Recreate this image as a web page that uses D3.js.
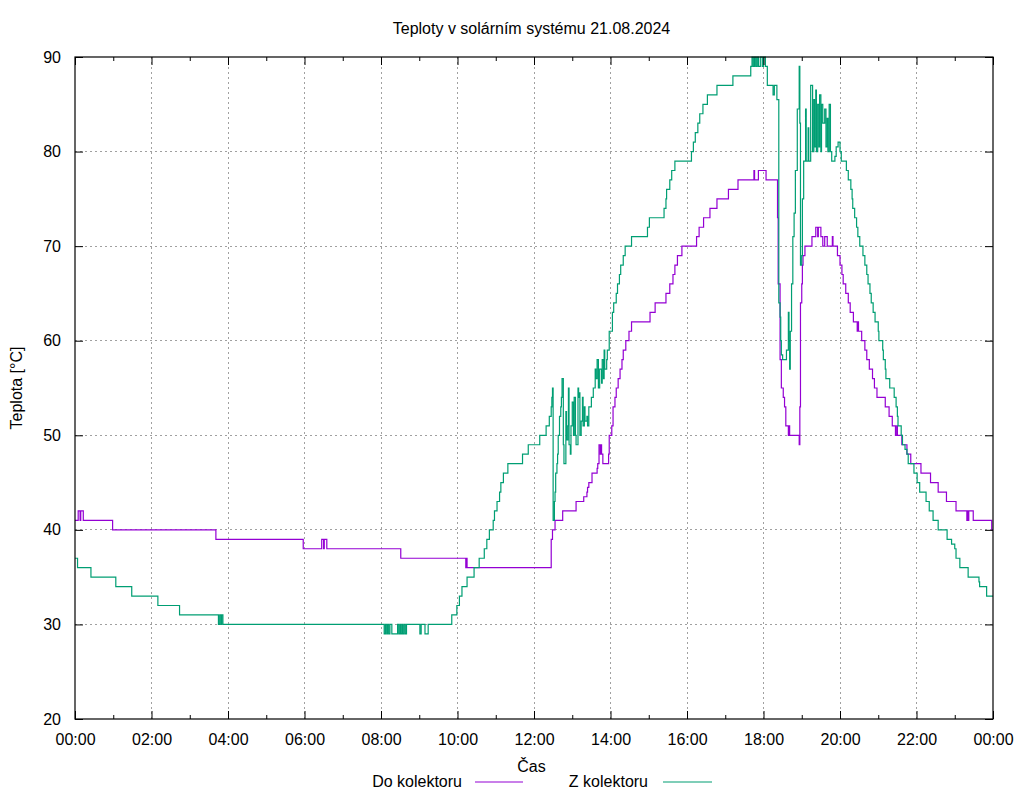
<!DOCTYPE html>
<html>
<head>
<meta charset="utf-8">
<script src="https://cdn.jsdelivr.net/npm/d3@7"></script>
<style>
  html, body { margin: 0; padding: 0; background: #ffffff; }
  svg { display: block; font-family: "Liberation Sans", Arial, sans-serif; }
</style>
</head>
<body>
<svg id="chart" width="1024" height="800"></svg>
<script>
// ---------- DATA ----------
const chartTitle = "Teploty v solárním systému 21.08.2024";
const xTitle = "Čas";
const yTitle = "Teplota [°C]";
const seriesNames = ["Do kolektoru", "Z kolektoru"];
const seriesColors = ["#9400d3", "#009e73"];
const yTicks = [20, 30, 40, 50, 60, 70, 80, 90];

// Do kolektoru: [time, °C] breakpoints (value holds until next time)
const doKolektoru = [
  ["00:00",41],["00:05",42],["00:08",41],["00:09",42],["00:13",41],["00:59",40],
  ["03:41",39],["05:58",38],["06:27",39],["06:30",38],["06:31",39],["06:35",38],
  ["08:31",37],["10:13",36],["10:14",37],["10:15",36],
  ["12:27",39],["12:29",40],["12:33",41],["12:45",42],["13:06",43],["13:18",43.5],
  ["13:23",44],["13:24",44.5],["13:26",45],["13:31",46],["13:39",46.5],["13:40",47],
  ["13:42",49],["13:44",48],["13:45",49],["13:46",48],["13:48",47],["13:57",48],
  ["13:58",50],["14:02",51],["14:04",53],["14:07",54],["14:09",55],["14:12",56],
  ["14:15",57],["14:18",58],["14:20",59],["14:24",60],["14:29",61],["14:33",62],
  ["15:02",63],["15:10",64],["15:27",65],["15:33",66],["15:38",67],["15:41",68],
  ["15:45",69],["15:52",70],["16:15",71],["16:19",72],["16:26",73],["16:36",74],
  ["16:47",75],["17:05",76],["17:20",77],["17:45",78],["17:46",77],["17:52",78],
  ["18:04",77],["18:22",73],["18:23",66],["18:26",58],["18:28",55],["18:31",54],
  ["18:33",53],["18:35",51],["18:39",50],["18:40",51],["18:41",50],["18:56",49],
  ["18:57",53],["18:58",64],["19:00",66],["19:01",68],["19:02",69],["19:05",70],
  ["19:16",71],["19:22",72],["19:25",71],["19:26",72],["19:30",71],["19:33",70],
  ["19:36",71],["19:40",70],["19:48",71],["19:49",70],["19:56",69],["20:00",68],
  ["20:03",67],["20:05",66],["20:09",65],["20:13",64],["20:16",63],["20:21",62],
  ["20:27",61],["20:28",62],["20:29",61],["20:34",60],["20:39",59],["20:42",58],
  ["20:46",57],["20:51",56],["20:54",55],["20:58",54],["21:11",53],["21:17",52],
  ["21:22",51],["21:27",50],["21:29",51],["21:30",50],["21:37",49],["21:45",48],
  ["21:51",47],["22:07",46],["22:22",45],["22:34",44],["22:47",43],["23:02",42],
  ["23:19",41],["23:20",42],["23:21",41],["23:22",42],["23:29",41],["23:58",40],
  ["24:00",40]
];

// Z kolektoru: [time, °C] breakpoints
const zKolektoru = [
  ["00:00",37],["00:04",36],["00:25",35],["01:04",34],["01:29",33],["02:10",32],
  ["02:44",31],["03:45",30],["03:47",31],["03:49",30],["03:50",31],["03:52",30],
  ["08:05",29],["08:07",30],["08:09",29],["08:10",30],["08:12",29],["08:14",30],
  ["08:17",29],["08:26",30],["08:28",29],["08:30",30],["08:31",29],["08:33",30],
  ["08:34",29],["08:36",30],["08:38",29],["08:40",30],["09:01",29],["09:03",30],
  ["09:09",29],["09:14",30],["09:51",31],["09:59",32],["10:03",33],["10:07",34],
  ["10:15",35],["10:26",36],["10:34",37],["10:42",38],["10:46",39],["10:50",40],
  ["10:56",41],["10:58",42],["11:02",43],["11:06",44],["11:08",45],["11:12",46],
  ["11:19",47],["11:42",48],["11:51",49],["12:09",50],["12:19",51],["12:24",52],
  ["12:27",53],["12:28",54],["12:29",55],["12:30",41],["12:32",43],["12:33",44],
  ["12:34",46],["12:36",47],["12:37",48],["12:38",50],["12:40",52],["12:42",53],
  ["12:43",54],["12:44",56],["12:46",49],["12:47",47],["12:50",52.5],["12:51",49.5],
  ["12:53",51],["12:54",55],["12:55",49],["12:57",48],["12:58",51],["13:00",53.5],
  ["13:02",50],["13:03",54],["13:05",50],["13:06",49],["13:09",55],["13:10",54],
  ["13:11",54.5],["13:12",50],["13:14",51.5],["13:16",54],["13:17",51],["13:19",53],
  ["13:20",51.5],["13:23",52],["13:24",51],["13:26",53],["13:30",54],["13:33",55],
  ["13:36",57],["13:37",56],["13:39",58],["13:41",55],["13:43",57],["13:46",55.5],
  ["13:47",58],["13:49",56],["13:50",59],["13:51",57],["13:54",58],["13:55",59],
  ["13:58",61],["14:03",63],["14:05",64],["14:09",65],["14:11",66],["14:14",67],
  ["14:16",68],["14:20",69],["14:23",70],["14:33",71],["14:58",72],["15:01",73],
  ["15:24",74],["15:27",75],["15:28",76],["15:33",77],["15:36",78],["15:41",79],
  ["16:07",80],["16:10",81],["16:13",82],["16:17",83],["16:20",84],["16:25",85],
  ["16:32",86],["16:47",87],["17:12",88],["17:40",89],["17:42",90],["17:44",89],
  ["17:46",90],["17:48",89],["17:50",90],["17:52",89],["17:55",90],["17:58",89],
  ["18:00",90],["18:03",89],["18:06",87],["18:15",86],["18:17",87],["18:21",85.5],
  ["18:24",64],["18:26",62.5],["18:27",60],["18:28",58.5],["18:30",58],["18:36",59],
  ["18:39",63],["18:40",60],["18:41",57],["18:42",61],["18:44",66],["18:46",71],
  ["18:48",73.5],["18:50",78],["18:53",84.5],["18:56",89],["18:57",83],["18:58",68],
  ["19:00",69],["19:01",75],["19:03",79],["19:06",84.5],["19:07",79],["19:10",82.5],
  ["19:11",79],["19:14",87],["19:17",80],["19:19",85.5],["19:20",80.5],["19:22",86.5],
  ["19:23",80],["19:25",85],["19:27",80.5],["19:28",86],["19:30",80],["19:31",85],
  ["19:33",83],["19:36",84.5],["19:38",80.5],["19:40",83.5],["19:41",80],["19:43",85],
  ["19:45",80],["19:47",79],["19:52",79.5],["19:54",80.5],["19:57",81],["20:00",80],
  ["20:02",79],["20:10",78],["20:13",77],["20:17",76],["20:19",75],["20:20",74],
  ["20:23",73],["20:26",72],["20:28",71],["20:31",70],["20:36",69],["20:39",68],
  ["20:42",67],["20:44",66],["20:47",65],["20:49",64],["20:52",63],["20:55",62],
  ["21:00",61],["21:01",60],["21:07",59],["21:08",58],["21:11",57],["21:12",56],
  ["21:18",55],["21:25",54],["21:28",53],["21:30",52],["21:31",51],["21:36",50],
  ["21:38",49],["21:42",48.5],["21:45",48],["21:47",47],["21:56",46],["22:01",45],
  ["22:05",44],["22:15",43],["22:20",42],["22:26",41],["22:34",40],["22:48",39],
  ["22:55",38.5],["23:00",38],["23:02",37],["23:08",36],["23:21",35],["23:38",34.5],
  ["23:39",34],["23:50",33],["24:00",33]
];

// ---------- CHART ----------
const svg = d3.select("#chart");
const L = 75, R = 993, T = 57, B = 719;
const day0 = new Date(2024, 7, 21, 0, 0);
const day1 = new Date(2024, 7, 22, 0, 0);
function toDate(s) {
  const [h, m] = s.split(":").map(Number);
  return new Date(2024, 7, 21, h, m);
}

const x = d3.scaleTime().domain([day0, day1]).range([L, R]);
const y = d3.scaleLinear().domain([20, 90]).range([B, T]);

const majorTicks = d3.timeHour.every(2).range(day0, new Date(+day1 + 1));
const minorTicks = d3.timeHour.every(1).range(day0, new Date(+day1 + 1)).filter(d => d.getHours() % 2 === 1);
const fmt = d => d3.timeFormat("%H:%M")(d);

// grid
const grid = svg.append("g").attr("stroke", "#a0a0a0").attr("stroke-width", 1)
  .attr("stroke-dasharray", "2,3").attr("shape-rendering", "crispEdges");
grid.selectAll("line.v").data(majorTicks.slice(1, -1)).join("line")
  .attr("x1", d => x(d)).attr("x2", d => x(d)).attr("y1", T).attr("y2", B);
grid.selectAll("line.h").data(yTicks.slice(1, -1)).join("line")
  .attr("y1", d => y(d)).attr("y2", d => y(d)).attr("x1", L).attr("x2", R);

// data lines
const line = d3.line()
  .x(d => x(toDate(d[0])))
  .y(d => y(d[1]))
  .curve(d3.curveStepAfter);

[doKolektoru, zKolektoru].forEach((ser, i) => {
  svg.append("path").datum(ser)
    .attr("fill", "none")
    .attr("stroke", seriesColors[i])
    .attr("stroke-width", 1.2)
    .attr("d", line);
});

// axes
function styleAxis(g, showText) {
  g.select(".domain").remove();
  g.selectAll(".tick line").attr("stroke", "#000").attr("stroke-width", 1);
  g.selectAll(".tick text").attr("fill", "#000").attr("font-size", 16)
    .attr("font-family", "'Liberation Sans', Arial, sans-serif");
  if (!showText) g.selectAll(".tick text").remove();
}

svg.append("g").attr("transform", `translate(0,${B})`)
  .call(d3.axisBottom(x).tickValues(majorTicks).tickFormat(fmt).tickSizeInner(-8).tickSizeOuter(0).tickPadding(15))
  .call(g => styleAxis(g, true));
svg.append("g").attr("transform", `translate(0,${B})`)
  .call(d3.axisBottom(x).tickValues(minorTicks).tickFormat("").tickSizeInner(-4).tickSizeOuter(0))
  .call(g => styleAxis(g, false));
svg.append("g").attr("transform", `translate(0,${T})`)
  .call(d3.axisTop(x).tickValues(majorTicks).tickFormat("").tickSizeInner(-8).tickSizeOuter(0))
  .call(g => styleAxis(g, false));
svg.append("g").attr("transform", `translate(0,${T})`)
  .call(d3.axisTop(x).tickValues(minorTicks).tickFormat("").tickSizeInner(-4).tickSizeOuter(0))
  .call(g => styleAxis(g, false));
svg.append("g").attr("transform", `translate(${L},0)`)
  .call(d3.axisLeft(y).tickValues(yTicks).tickFormat(d3.format("d")).tickSizeInner(-8).tickSizeOuter(0).tickPadding(14))
  .call(g => styleAxis(g, true));
svg.append("g").attr("transform", `translate(${R},0)`)
  .call(d3.axisRight(y).tickValues(yTicks).tickFormat("").tickSizeInner(-8).tickSizeOuter(0))
  .call(g => styleAxis(g, false));

// border
svg.append("rect").attr("x", L).attr("y", T).attr("width", R - L).attr("height", B - T)
  .attr("fill", "none").attr("stroke", "#000").attr("stroke-width", 1.2);

// titles
svg.append("text").attr("x", 531.5).attr("y", 34).attr("text-anchor", "middle")
  .attr("font-size", 16).attr("fill", "#000").text(chartTitle);
svg.append("text").attr("x", 531.5).attr("y", 772).attr("text-anchor", "middle")
  .attr("font-size", 16).attr("fill", "#000").text(xTitle);
svg.append("text").attr("transform", "translate(22,388) rotate(-90)").attr("text-anchor", "middle")
  .attr("font-size", 16).attr("fill", "#000").text(yTitle);

// legend
const legendPos = [{tx: 462, x1: 475, x2: 523}, {tx: 648, x1: 663, x2: 712}];
seriesNames.forEach((name, i) => {
  const p = legendPos[i];
  svg.append("text").attr("x", p.tx).attr("y", 787).attr("text-anchor", "end")
    .attr("font-size", 16).attr("fill", "#000").text(name);
  svg.append("line").attr("x1", p.x1).attr("x2", p.x2).attr("y1", 782).attr("y2", 782)
    .attr("stroke", seriesColors[i]).attr("stroke-width", 1.2);
});
</script>
</body>
</html>
